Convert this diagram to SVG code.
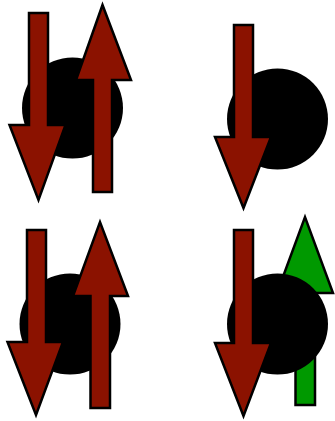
<svg xmlns="http://www.w3.org/2000/svg" width="335" height="421" viewBox="0 0 335 421">
<style>
.ball{fill:#000}
.red{fill:#8b1200;stroke:#000;stroke-width:2.5;stroke-linejoin:miter;stroke-miterlimit:10}
.green{fill:#009900;stroke:#000;stroke-width:2.5;stroke-linejoin:miter;stroke-miterlimit:10}
</style>
<rect width="335" height="421" fill="#fff"/>
<g id="panel1">
<circle class="ball" cx="72.5" cy="108" r="50.5"/>
<path class="red" d="M29,13 H48 V125 H65.5 L38.5,200 L9.5,125 H29 Z"/>
<path class="red" d="M93,192 H112 V80 H131 L102.5,5 L76,80 H93 Z"/>
</g>
<g id="panel2">
<circle class="ball" cx="277.5" cy="119" r="50.5"/>
<path class="red" d="M234,25 H253 V137 H271 L243.5,208 L215,137 H234 Z"/>
</g>
<g id="panel3">
<circle class="ball" cx="70" cy="324" r="50.5"/>
<path class="red" d="M27,230 H46 V342 H63 L36,415 L7.5,342 H27 Z"/>
<path class="red" d="M90.5,408 H110 V296 H128 L100,222 L73,296 H90.5 Z"/>
</g>
<g id="panel4">
<path class="green" d="M295.5,405 H315 V293 H333 L305,217 L277,293 H295.5 Z"/>
<circle class="ball" cx="277.5" cy="324" r="50.5"/>
<path class="red" d="M234,230 H253 V343 H271 L243.5,416 L215,343 H234 Z"/>
</g>
</svg>
